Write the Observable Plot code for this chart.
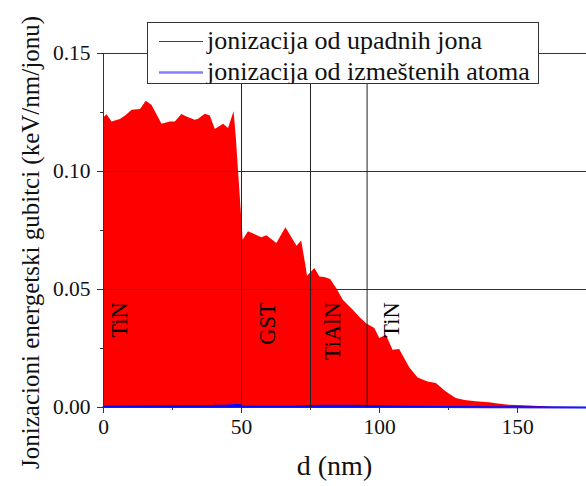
<!DOCTYPE html>
<html>
<head>
<meta charset="utf-8">
<script src="https://cdn.jsdelivr.net/npm/d3@7"></script>
<script src="https://cdn.jsdelivr.net/npm/@observablehq/plot@0.6"></script>
<style>
  html, body { margin: 0; padding: 0; background: #fff; }
  #wrap { position: relative; width: 586px; height: 486px; overflow: hidden; font-family: "Liberation Serif", serif; }
  #wrap svg text { font-family: "Liberation Serif", serif; }
  #legend { position: absolute; left: 147px; top: 22px; }
</style>
</head>
<body>
<div id="wrap"><div id="chart"></div><div id="legend"></div></div>
<script>
// Ionization from incident ions (red)
const ionD = [0, 1.3, 3.1, 6.1, 8, 10.4, 13.4, 15.5, 17.6, 21.2, 24.2, 26, 28.4, 30, 33.2, 34.3, 36.9, 38.7, 40.5, 43.5, 45.3, 47.3, 48.1, 50.6, 52.5, 57.4, 59.2, 62.8, 66.1, 70.1, 71.8, 73.4, 73.9, 76.6, 78.4, 80.2, 82.3, 84.7, 86.8, 89.3, 90.5, 93, 95.3, 98.3, 100.1, 102.5, 104.9, 107.3, 109, 111, 114, 117.6, 120.6, 124.2, 127.8, 131, 135, 139.9, 143, 147, 150, 154.3, 159.7, 163, 175];
const ionV = [0.1227, 0.124, 0.121, 0.122, 0.1235, 0.126, 0.1263, 0.1298, 0.128, 0.120, 0.121, 0.121, 0.1241, 0.1232, 0.1217, 0.122, 0.1243, 0.1235, 0.1178, 0.120, 0.1182, 0.1253, 0.1147, 0.0709, 0.0745, 0.0719, 0.0728, 0.0695, 0.0762, 0.0683, 0.0705, 0.0596, 0.0556, 0.0589, 0.0553, 0.0551, 0.0542, 0.050, 0.0455, 0.0426, 0.0412, 0.038, 0.0355, 0.0335, 0.0292, 0.0306, 0.0243, 0.0246, 0.021, 0.0167, 0.0125, 0.0108, 0.0102, 0.0066, 0.0038, 0.003, 0.0024, 0.002, 0.0015, 0.001, 0.0008, 0.0006, 0.0003, 0.0001, 0];
// Ionization from displaced atoms (blue)
const recD = [0, 10, 20, 30, 40, 45, 48, 49.5, 50.5, 52, 60, 70, 75, 80, 90, 95, 100, 110, 120, 140, 175];
const recV = [0.0003, 0.0004, 0.0005, 0.0006, 0.0007, 0.0009, 0.0011, 0.0010, 0.0003, 0.0003, 0.0003, 0.0004, 0.0006, 0.0007, 0.0007, 0.0006, 0.0005, 0.0003, 0.0002, 0.0001, 0.00005];
// Layers
const layerNames = ["TiN", "GST", "TiAlN", "TiN"];
const layerLabelX = [5.8, 59.6, 83, 104.4];
const layerLabelY = 0.0446;
const layerBounds = [50, 75, 95.5];
// Axes
const xTicks = [0, 50, 100, 150];
const xMinor = [25, 75, 125];
const yTicks = [0, 0.05, 0.10, 0.15];
const yMinor = [0.025, 0.075, 0.125];
const yGrid = [0.05, 0.10, 0.15];
const seriesNames = ["jonizacija od upadnih jona", "jonizacija od izmeštenih atoma"];
const xLabel = "d (nm)";
const yLabel = "Jonizacioni energetski gubitci (keV/nm/jonu)";

const ion = ionD.map((d, i) => ({d, v: ionV[i]}));
const rec = recD.map((d, i) => ({d, v: recV[i]}));
const layers = layerNames.map((n, i) => ({n, x: layerLabelX[i], y: layerLabelY}));

const F = '"Liberation Serif", serif';
const plot = Plot.plot({
  width: 586, height: 486,
  marginLeft: 103, marginRight: 0, marginTop: 53, marginBottom: 79,
  style: {fontFamily: F, background: "white"},
  x: {domain: [0, 175]},
  y: {domain: [0, 0.15]},
  marks: [
    Plot.areaY(ion, {x: "d", y: "v", fill: "#ff0000"}),
    Plot.areaY(rec, {x: "d", y: "v", fill: "#0000ff"}),
    Plot.lineY(rec, {x: "d", y: "v", stroke: "#0000ff", strokeWidth: 2}),
    Plot.ruleY(yGrid, {stroke: "#333", strokeWidth: 1}),
    Plot.ruleX(layerBounds, {stroke: "#222", strokeWidth: 1}),
    Plot.ruleX([0], {stroke: "#333"}),
    Plot.ruleY([0], {stroke: "#333"}),
    Plot.axisX({ticks: xTicks, tickSize: 6, tickPadding: 5, fontSize: 21.5, fontFamily: F, label: null, stroke: "#333", fill: "#111"}),
    Plot.axisX({ticks: xMinor, tickSize: 3, text: null, label: null, stroke: "#333"}),
    Plot.axisY({ticks: yTicks, tickSize: 6, tickPadding: 7, fontSize: 21.5, fontFamily: F, tickFormat: d3.format(".2f"), label: null, stroke: "#333", fill: "#111"}),
    Plot.axisY({ticks: yMinor, tickSize: 3, text: null, label: null, stroke: "#333"}),
    Plot.text(layers, {x: "x", y: "y", text: "n", rotate: -90, textAnchor: "end", lineAnchor: "middle", fontSize: 22.5, fill: "black", fontFamily: F}),
    Plot.text([xLabel], {frameAnchor: "bottom", text: d => d, fontSize: 28, fill: "#111", fontFamily: F}),
    Plot.text([yLabel], {frameAnchor: "left", text: d => d, rotate: -90, textAnchor: "middle", fontSize: 25, fill: "#111", fontFamily: F})
  ]
});
document.getElementById("chart").appendChild(plot);

// place axis titles (layout only)
const svg = d3.select(plot);
const texts = svg.selectAll("g[aria-label='text']").nodes();
d3.select(texts[1]).selectAll("text").attr("transform", "translate(334,466)").attr("dy", "0.32em").attr("text-anchor", "middle");
d3.select(texts[2]).attr("text-anchor", "middle");
d3.select(texts[2]).selectAll("text").attr("transform", "translate(22,242) rotate(-90)").attr("dy", "0.32em").attr("text-anchor", "middle");

// Legend
const lw = 392, lh = 62;
const lg = d3.select("#legend").append("svg").attr("width", lw).attr("height", lh);
lg.append("rect").attr("x", 0.5).attr("y", 0.5).attr("width", lw - 1).attr("height", lh - 1)
  .attr("fill", "white").attr("stroke", "#333");
const rows = [
  {c: "#e00000", w: 1, ly: 19.5, by: 26.5},
  {c: "#8080ff", w: 2.5, ly: 50.5, by: 57.5}
];
seriesNames.forEach((s, i) => {
  const r = rows[i];
  lg.append("line").attr("x1", 12).attr("x2", 56).attr("y1", r.ly).attr("y2", r.ly)
    .attr("stroke", r.c).attr("stroke-width", r.w);
  lg.append("text").attr("x", 60).attr("y", r.by)
    .style("font-family", F).attr("font-size", 26).attr("fill", "#111").text(s);
});
</script>
</body>
</html>
